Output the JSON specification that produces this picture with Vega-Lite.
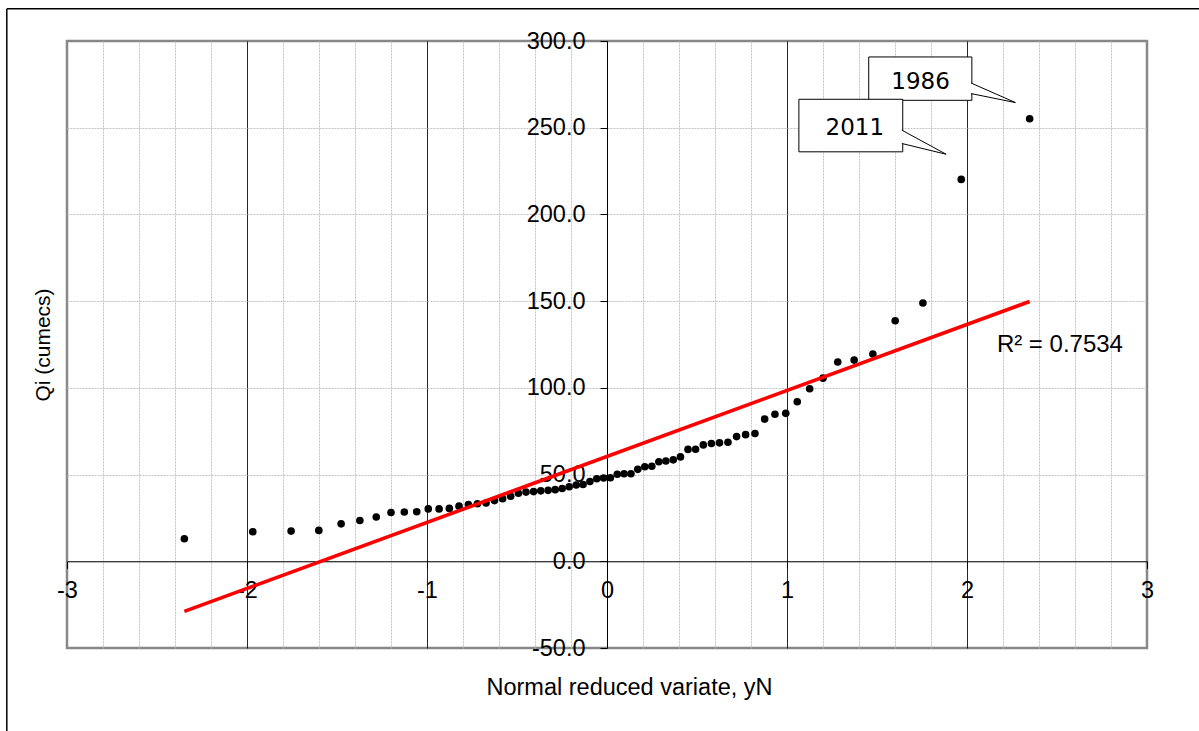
{
  "$schema": "https://vega.github.io/schema/vega-lite/v6.json",
  "width": 1080,
  "height": 607,
  "autosize": "none",
  "padding": {"left": 67, "top": 41, "right": 52, "bottom": 83},
  "background": "white",
  "config": {
    "view": {"stroke": "#888888", "strokeWidth": 2.5},
    "font": "Liberation Sans",
    "axis": {"labelFont": "Liberation Sans", "titleFont": "Liberation Sans", "labelColor": "#000", "titleColor": "#000", "titleFontWeight": "normal"}
  },
  "datasets": {
    "obs": [
      {"yN": -2.348, "Qi": 13.0}, {"yN": -1.968, "Qi": 17.0}, {"yN": -1.755, "Qi": 17.4}, {"yN": -1.601, "Qi": 17.8},
      {"yN": -1.477, "Qi": 21.6}, {"yN": -1.373, "Qi": 23.5}, {"yN": -1.282, "Qi": 25.5}, {"yN": -1.200, "Qi": 28.1},
      {"yN": -1.126, "Qi": 28.4}, {"yN": -1.057, "Qi": 28.6}, {"yN": -0.993, "Qi": 30.2}, {"yN": -0.933, "Qi": 30.2},
      {"yN": -0.876, "Qi": 30.5}, {"yN": -0.822, "Qi": 31.8}, {"yN": -0.770, "Qi": 32.7}, {"yN": -0.720, "Qi": 33.2},
      {"yN": -0.672, "Qi": 33.6}, {"yN": -0.625, "Qi": 35.0}, {"yN": -0.580, "Qi": 36.1}, {"yN": -0.535, "Qi": 37.5},
      {"yN": -0.492, "Qi": 39.2}, {"yN": -0.450, "Qi": 39.9}, {"yN": -0.408, "Qi": 40.2}, {"yN": -0.368, "Qi": 40.6},
      {"yN": -0.327, "Qi": 40.9}, {"yN": -0.288, "Qi": 41.3}, {"yN": -0.249, "Qi": 42.0}, {"yN": -0.210, "Qi": 43.0},
      {"yN": -0.171, "Qi": 44.0}, {"yN": -0.133, "Qi": 44.3}, {"yN": -0.095, "Qi": 46.0}, {"yN": -0.057, "Qi": 47.6},
      {"yN": -0.019, "Qi": 48.0}, {"yN": 0.019, "Qi": 48.2}, {"yN": 0.057, "Qi": 50.2}, {"yN": 0.095, "Qi": 50.5},
      {"yN": 0.133, "Qi": 50.5}, {"yN": 0.171, "Qi": 53.0}, {"yN": 0.210, "Qi": 54.5}, {"yN": 0.249, "Qi": 54.8},
      {"yN": 0.288, "Qi": 57.4}, {"yN": 0.327, "Qi": 57.8}, {"yN": 0.368, "Qi": 58.5}, {"yN": 0.408, "Qi": 60.2},
      {"yN": 0.450, "Qi": 64.5}, {"yN": 0.492, "Qi": 64.6}, {"yN": 0.535, "Qi": 67.1}, {"yN": 0.580, "Qi": 67.9},
      {"yN": 0.625, "Qi": 68.3}, {"yN": 0.672, "Qi": 68.6}, {"yN": 0.720, "Qi": 71.9}, {"yN": 0.770, "Qi": 73.0},
      {"yN": 0.822, "Qi": 73.7}, {"yN": 0.876, "Qi": 82.0}, {"yN": 0.933, "Qi": 84.8}, {"yN": 0.993, "Qi": 85.3},
      {"yN": 1.057, "Qi": 92.0}, {"yN": 1.126, "Qi": 99.5}, {"yN": 1.200, "Qi": 105.6}, {"yN": 1.282, "Qi": 114.9},
      {"yN": 1.373, "Qi": 116.0}, {"yN": 1.477, "Qi": 119.5}, {"yN": 1.601, "Qi": 138.7}, {"yN": 1.755, "Qi": 148.9},
      {"yN": 1.968, "Qi": 220.2}, {"yN": 2.348, "Qi": 255.2}
    ],
    "trend": [{"yN": -2.348, "Qi": -28.9}, {"yN": 2.348, "Qi": 149.8}],
    "frameV": [{"fx": -3.3344, "fy1": -130, "fy2": 318.66}],
    "frameH": [{"fy": 318.66, "fx1": -3.3344, "fx2": 3.5}],
    "boxes": [
      {"label": "1986", "x1": 1.454, "x2": 2.027, "y1": 265.8, "y2": 290.8, "tx": 1.742, "ty": 276.4},
      {"label": "2011", "x1": 1.066, "x2": 1.643, "y1": 236.1, "y2": 266.4, "tx": 1.377, "ty": 250.1}
    ],
    "wedges": [
      {"id": "1986", "k": 1, "wx": 2.022, "wy": 275.8},
      {"id": "1986", "k": 2, "wx": 2.269, "wy": 264.5},
      {"id": "1986", "k": 3, "wx": 2.022, "wy": 269.7},
      {"id": "2011", "k": 1, "wx": 1.638, "wy": 248.6},
      {"id": "2011", "k": 2, "wx": 1.884, "wy": 234.7},
      {"id": "2011", "k": 3, "wx": 1.638, "wy": 240.9}
    ],
    "r2": [{"x": 2.166, "y": 124.9, "t": "R² = 0.7534"}]
  },
  "layer": [
    {
      "data": {"name": "frameV"},
      "mark": {"type": "rule", "color": "#000", "strokeWidth": 1.5},
      "encoding": {
        "x": {"field": "fx", "type": "quantitative", "scale": {"domain": [-3, 3], "nice": false, "zero": false},
          "axis": {"orient": "bottom", "values": [-2.8,-2.6,-2.4,-2.2,-1.8,-1.6,-1.4,-1.2,-0.8,-0.6,-0.4,-0.2,0.2,0.4,0.6,0.8,1.2,1.4,1.6,1.8,2.2,2.4,2.6,2.8],
            "grid": true, "gridColor": "#c4c4c4", "gridDash": [2, 1], "gridWidth": 1, "labels": false, "ticks": false, "domain": false,
            "title": "Normal reduced variate, yN", "titleFontSize": 23.5, "titlePadding": 27, "titleX": 562}},
        "y": {"field": "fy1", "type": "quantitative", "scale": {"domain": [-50, 300], "nice": false, "zero": false},
          "axis": {"orient": "left", "values": [0, 50, 100, 150, 200, 250],
            "grid": true, "gridColor": "#c4c4c4", "gridDash": [2, 1], "gridWidth": 1, "labels": false, "ticks": false, "domain": false,
            "title": "Qi (cumecs)", "titleFontSize": 21, "titlePadding": 14}},
        "y2": {"field": "fy2"}
      }
    },
    {
      "data": {"name": "frameH"},
      "mark": {"type": "rule", "color": "#000", "strokeWidth": 1.5},
      "encoding": {
        "y": {"field": "fy", "type": "quantitative", "scale": {"domain": [-50, 300], "nice": false, "zero": false}, "axis": null},
        "x": {"field": "fx1", "type": "quantitative", "scale": {"domain": [-3, 3], "nice": false, "zero": false},
          "axis": {"orient": "bottom", "values": [-2, -1, 1, 2], "grid": true, "gridColor": "#000", "gridWidth": 1, "gridOpacity": 0.85,
            "labels": false, "ticks": false, "domain": false, "title": null}},
        "x2": {"field": "fx2"}
      }
    },
    {
      "data": {"name": "obs"},
      "mark": {"type": "circle", "color": "#000", "size": 58, "opacity": 1},
      "encoding": {
        "x": {"field": "yN", "type": "quantitative", "scale": {"domain": [-3, 3], "nice": false, "zero": false},
          "axis": {"orient": "bottom", "offset": -86.71, "values": [-3, -2, -1, 0, 1, 2, 3], "grid": false,
            "domain": true, "domainColor": "#000", "domainWidth": 1, "ticks": true, "tickSize": 7, "tickColor": "#000", "tickWidth": 1,
            "labelFontSize": 23.5, "labelPadding": 10, "labelFlush": false, "labelOverlap": false, "labelBound": false,
            "labelExpr": "'' + datum.value", "title": null}},
        "y": {"field": "Qi", "type": "quantitative", "scale": {"domain": [-50, 300], "nice": false, "zero": false},
          "axis": {"orient": "left", "offset": -540, "values": [-50, 0, 50, 100, 150, 200, 250, 300], "grid": false,
            "domain": true, "domainColor": "#000", "domainWidth": 1, "ticks": true, "tickSize": 7, "tickColor": "#000", "tickWidth": 1,
            "labelFontSize": 23.5, "labelPadding": 15, "labelFlush": false, "labelOverlap": false, "labelBound": false,
            "labelExpr": "replace(format(datum.value, '.1f'), '\u2212', '-')", "title": null}}
      }
    },
    {
      "data": {"name": "trend"},
      "mark": {"type": "line", "color": "#ff0000", "strokeWidth": 3.6},
      "encoding": {
        "x": {"field": "yN", "type": "quantitative", "scale": {"domain": [-3, 3], "nice": false, "zero": false}, "axis": null},
        "y": {"field": "Qi", "type": "quantitative", "scale": {"domain": [-50, 300], "nice": false, "zero": false}, "axis": null}
      }
    },
    {
      "data": {"name": "r2"},
      "mark": {"type": "text", "align": "left", "baseline": "middle", "fontSize": 24, "font": "Liberation Sans", "color": "#000"},
      "encoding": {
        "x": {"field": "x", "type": "quantitative", "scale": {"domain": [-3, 3], "nice": false, "zero": false}, "axis": null},
        "y": {"field": "y", "type": "quantitative", "scale": {"domain": [-50, 300], "nice": false, "zero": false}, "axis": null},
        "text": {"field": "t"}
      }
    },
    {
      "data": {"name": "boxes"},
      "mark": {"type": "rect", "fill": "#ffffff", "stroke": "#000", "strokeWidth": 1},
      "encoding": {
        "x": {"field": "x1", "type": "quantitative", "scale": {"domain": [-3, 3], "nice": false, "zero": false}, "axis": null},
        "x2": {"field": "x2"},
        "y": {"field": "y1", "type": "quantitative", "scale": {"domain": [-50, 300], "nice": false, "zero": false}, "axis": null},
        "y2": {"field": "y2"}
      }
    },
    {
      "data": {"name": "wedges"},
      "mark": {"type": "line", "fill": "#ffffff", "stroke": "#000", "strokeWidth": 1, "interpolate": "linear"},
      "encoding": {
        "x": {"field": "wx", "type": "quantitative", "scale": {"domain": [-3, 3], "nice": false, "zero": false}, "axis": null},
        "y": {"field": "wy", "type": "quantitative", "scale": {"domain": [-50, 300], "nice": false, "zero": false}, "axis": null},
        "order": {"field": "k", "type": "quantitative"},
        "detail": {"field": "id"}
      }
    },
    {
      "data": {"name": "boxes"},
      "mark": {"type": "text", "align": "center", "baseline": "middle", "fontSize": 23, "font": "DejaVu Sans", "color": "#000"},
      "encoding": {
        "x": {"field": "tx", "type": "quantitative", "scale": {"domain": [-3, 3], "nice": false, "zero": false}, "axis": null},
        "y": {"field": "ty", "type": "quantitative", "scale": {"domain": [-50, 300], "nice": false, "zero": false}, "axis": null},
        "text": {"field": "label"}
      }
    }
  ],
  "resolve": {"axis": {"x": "independent", "y": "independent"}}
}
